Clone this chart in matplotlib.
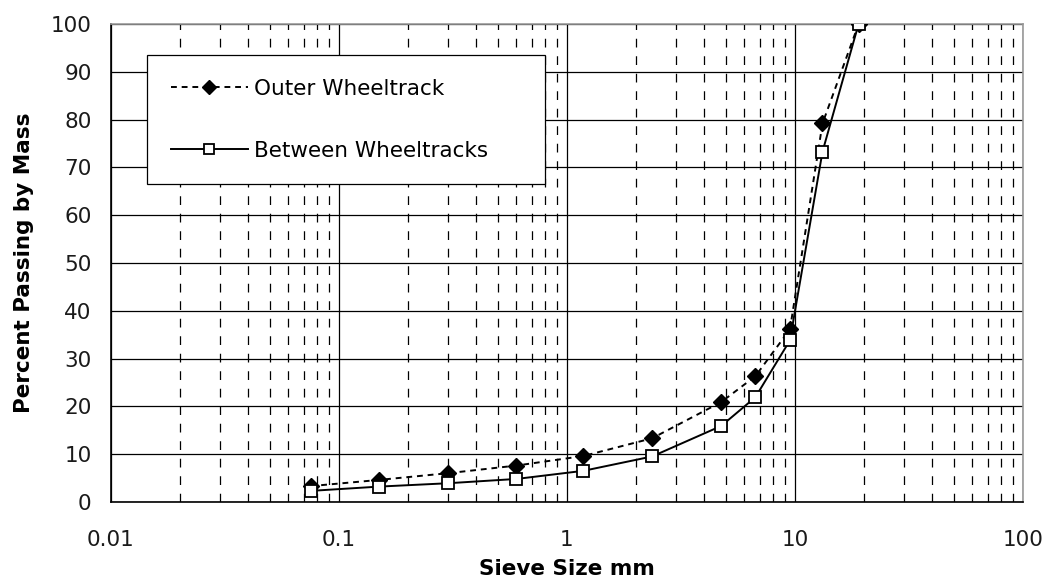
import numpy as np
import matplotlib.pyplot as plt
from matplotlib.ticker import LogLocator, FixedLocator, NullFormatter

plt.rcParams['font.family'] = ['DejaVu Sans']

# данные ситового анализа
sieve = [0.075, 0.15, 0.3, 0.6, 1.18, 2.36, 4.75, 6.7, 9.5, 13.2, 19.0]
outer = [3.3, 4.6, 6.0, 7.6, 9.6, 13.3, 20.9, 26.3, 36.1, 79.2, 100.0]
between = [2.3, 3.2, 3.9, 4.8, 6.5, 9.5, 15.9, 21.9, 33.8, 73.3, 100.0]
x_ticks = [0.01, 0.1, 1, 10, 100]
x_labels = ['0.01', '0.1', '1', '10', '100']

fig = plt.figure(figsize=(10.5, 5.87), dpi=100)
ax = fig.add_axes([0.1057, 0.145, 0.8686, 0.814])

ax.set_xscale('log')
ax.set_xlim(0.01, 100)
ax.set_ylim(0, 100)

# сетка: основные линии сплошные, вспомогательные штриховые
ax.xaxis.set_major_locator(FixedLocator(x_ticks))
ax.xaxis.set_minor_locator(LogLocator(base=10, subs=np.arange(2, 10)))
ax.xaxis.set_minor_formatter(NullFormatter())
ax.set_xticklabels(x_labels)
ax.set_yticks(np.arange(0, 101, 10))
ax.grid(which='major', color='black', linewidth=0.9)
ax.grid(which='minor', axis='x', color='black', linewidth=0.9,
        linestyle=(0, (7, 7)))
ax.set_axisbelow(True)

ax.plot(sieve, outer, color='black', linestyle=(0, (3, 2.5)), linewidth=1.4,
        marker='D', markersize=8.5, markerfacecolor='black',
        label='Outer Wheeltrack', zorder=3)
ax.plot(sieve, between, color='black', linestyle='-', linewidth=1.4,
        marker='s', markersize=8, markerfacecolor='white',
        markeredgewidth=1.3, label='Between Wheeltracks', zorder=3)

for side in ['left', 'bottom']:
    ax.spines[side].set_color('black')
    ax.spines[side].set_linewidth(1.2)
for side in ['top', 'right']:
    ax.spines[side].set_color('#999999')
    ax.spines[side].set_linewidth(1.2)

ax.tick_params(which='both', length=0, labelsize=15.5, colors='#1a1a1a')
ax.tick_params(axis='y', pad=14)
ax.tick_params(axis='x', pad=20)

ax.set_xlabel('Sieve Size mm', fontsize=15.5, fontweight='bold', labelpad=7)
ax.set_ylabel('Percent Passing by Mass', fontsize=15.5, fontweight='bold',
              labelpad=12)

# легенда растянута на ширину рамки как в оригинале
leg = ax.legend(loc='upper left', bbox_to_anchor=(0.0395, 0.5, 0.436, 0.435),
                mode='expand', fontsize=15.5, frameon=True, fancybox=False,
                edgecolor='black', framealpha=1, borderpad=1.1,
                labelspacing=1.95, handlelength=3.6, handletextpad=0.25,
                borderaxespad=0, markerscale=0.85)
leg.get_frame().set_linewidth(0.9)

fig.savefig('out.png', dpi=100)
